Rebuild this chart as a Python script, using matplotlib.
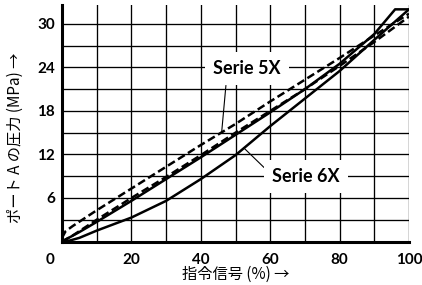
import matplotlib
matplotlib.use("Agg")
import matplotlib.pyplot as plt
from matplotlib.transforms import ScaledTranslation

# ---- data ----
x_6x_rise = [0, 2, 5, 10, 20, 30, 40, 50, 60, 70, 80, 90, 100]
y_6x_rise = [0, 0.1, 0.5, 1.5, 3.3, 5.6, 8.6, 11.9, 15.9, 19.7, 23.5, 27.8, 32.0]
x_6x_fall = [0, 5, 10, 20, 30, 40, 50, 60, 70, 80, 90, 96, 100]
y_6x_fall = [0, 1.3, 2.7, 5.6, 8.6, 11.6, 14.7, 17.8, 21.0, 24.5, 28.6, 32.0, 32.0]
x_5x_up = [0, 1, 3, 10, 20, 30, 40, 50, 60, 70, 80, 90, 100]
y_5x_up = [0.5, 1.4, 2.1, 4.3, 7.3, 10.3, 13.3, 16.2, 19.3, 22.3, 25.3, 28.4, 31.4]
x_5x_low = [0, 3, 10, 20, 30, 40, 50, 60, 70, 80, 90, 100]
y_5x_low = [0, 0.8, 3.0, 6.0, 8.9, 11.9, 15.0, 18.0, 21.0, 24.2, 27.5, 31.0]

x_ticks = [0, 20, 40, 60, 80, 100]
x_ticklabels = ["0", "20", "40", "60", "80", "100"]
y_ticks = [6, 12, 18, 24, 30]
y_ticklabels = ["6", "12", "18", "24", "30"]
x_grid = [10, 20, 30, 40, 50, 60, 70, 80, 90, 100]
y_grid = [3, 6, 9, 12, 15, 18, 21, 24, 27, 30]

xlabel = "指令信号 (%) →"
ylabel = "ポート A の圧力 (MPa) →"
label_5x = "Serie 5X"
label_6x = "Serie 6X"

fig = plt.figure(figsize=(4.22, 2.85), dpi=100)
ax = fig.add_axes([62/422, 1-241.5/285, (409-62)/422, (241.5-5)/285])
ax.set_xlim(0, 100)
ax.set_ylim(0, 32.6)

for gx in x_grid:
    ax.axvline(gx, color="black", lw=0.95, zorder=1)
for gy in y_grid:
    ax.axhline(gy, color="black", lw=0.95, zorder=1)

lw = 1.8
dash = (0, (3.2, 1.5))
ax.plot(x_6x_rise, y_6x_rise, color="black", lw=lw, zorder=3, solid_capstyle="butt")
ax.plot(x_6x_fall, y_6x_fall, color="black", lw=lw, zorder=3, solid_capstyle="butt")
ax.plot(x_5x_up, y_5x_up, color="black", lw=lw, ls=dash, zorder=3)
ax.plot(x_5x_low, y_5x_low, color="black", lw=lw, ls=dash, zorder=3)

for s in ["top", "right"]:
    ax.spines[s].set_visible(False)
ax.spines["left"].set_linewidth(2.2)
ax.spines["bottom"].set_linewidth(2.2)

tickfont = dict(family=["Lato", "DejaVu Sans"], weight="bold", size=11)
ax.set_xticks(x_ticks)
ax.set_xticklabels(x_ticklabels, **tickfont)
ax.set_yticks(y_ticks)
ax.set_yticklabels(y_ticklabels, **tickfont)
ax.tick_params(axis="both", length=0)
ax.tick_params(axis="x", pad=8)
ax.tick_params(axis="y", pad=5)
lab0 = ax.get_xticklabels()[0]
lab0.set_transform(lab0.get_transform() + ScaledTranslation(-12/100, 0, fig.dpi_scale_trans))

cjk = ["Noto Sans CJK JP", "DejaVu Sans"]
fig.text(235.5/422, 1-274/285, xlabel, ha="center", va="center", family=cjk, size=11)
fig.text(15/422, 1-138/285, ylabel, ha="center", va="center", rotation=90, family=cjk, size=11)

bbox = dict(boxstyle="square,pad=0.45", fc="white", ec="none")
tfont = dict(family=["Lato", "DejaVu Sans"], weight="bold", size=13)
ax.annotate(label_5x, xy=(46.0, 15.0), xytext=(53.3, 23.8), ha="center", va="center",
            bbox=bbox, zorder=4, **tfont,
            arrowprops=dict(arrowstyle="-", color="black", lw=0.8, shrinkA=0, shrinkB=0,
                            relpos=(0.2, 0.0)))
ax.annotate(label_6x, xy=(52.4, 12.9), xytext=(70.3, 9.0), ha="center", va="center",
            bbox=bbox, zorder=4, **tfont,
            arrowprops=dict(arrowstyle="-", color="black", lw=0.8, shrinkA=0, shrinkB=0,
                            relpos=(0.0, 0.55)))

fig.savefig("out.png", dpi=100)
